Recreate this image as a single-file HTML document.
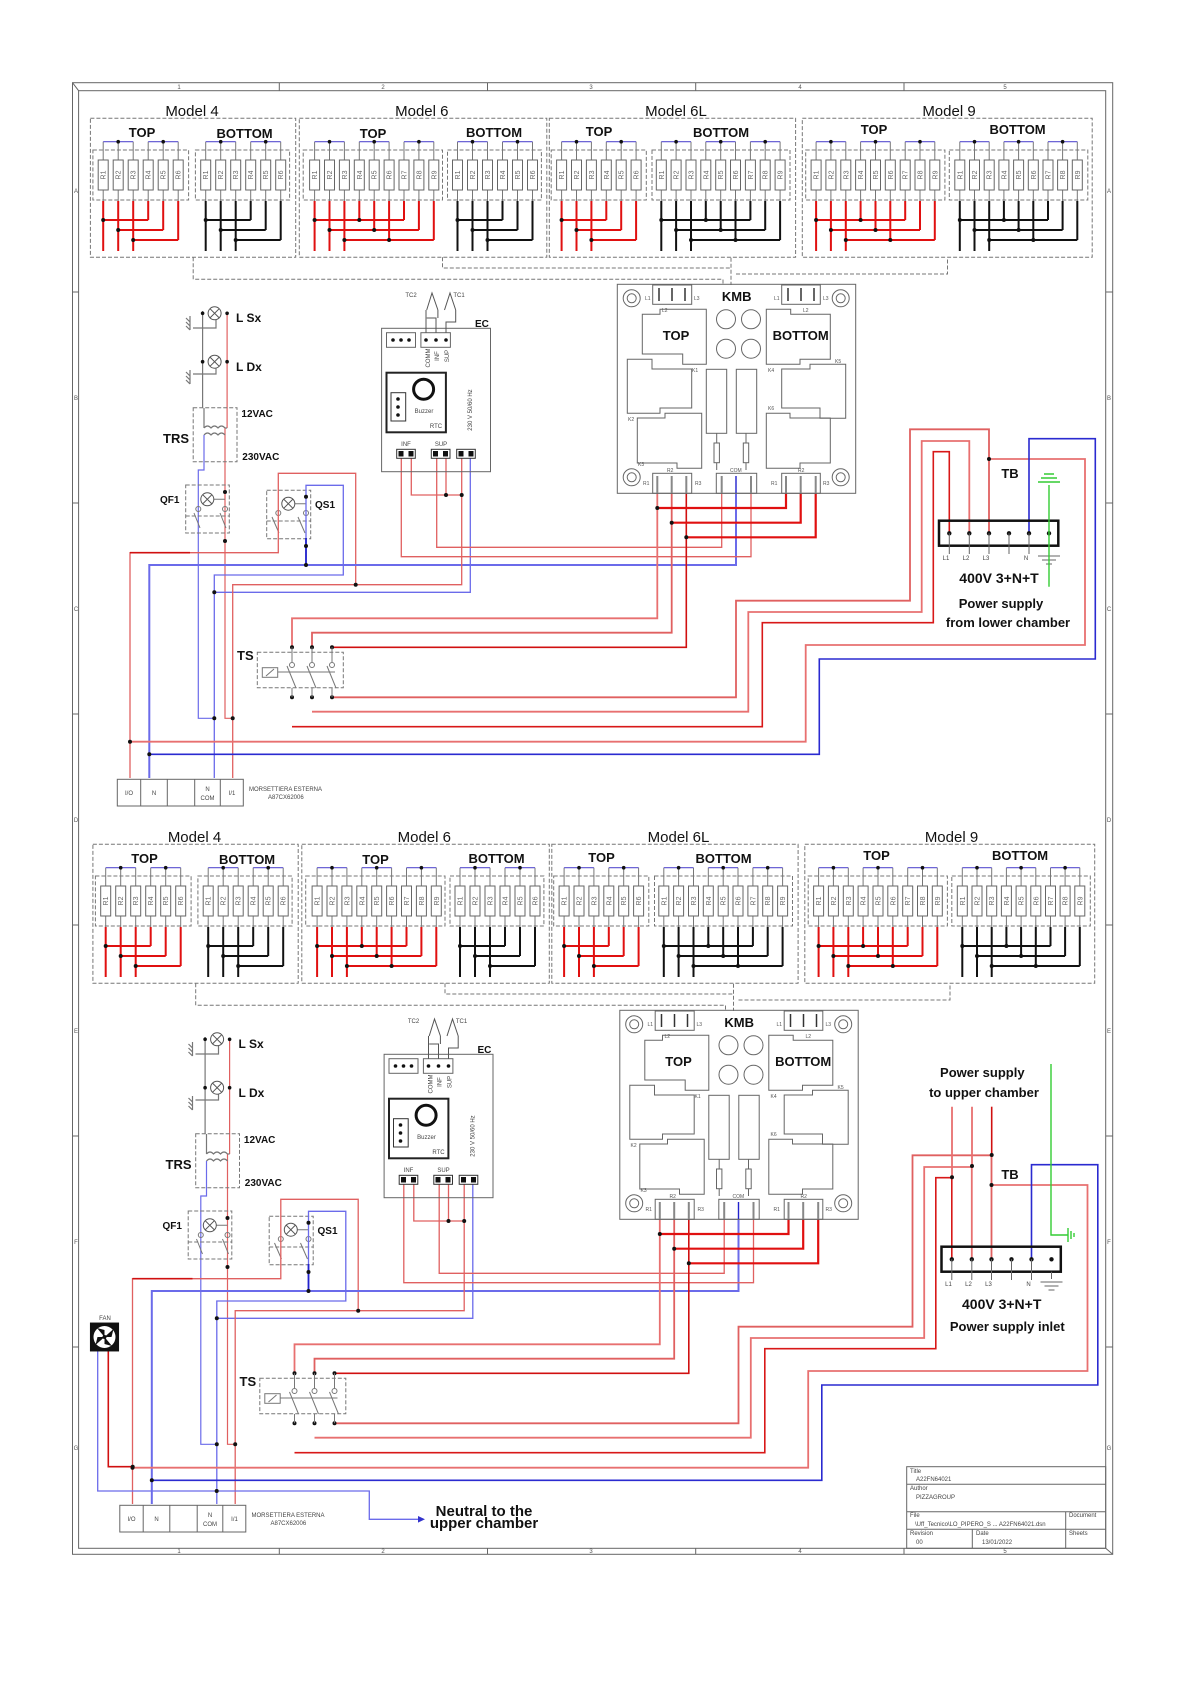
<!DOCTYPE html>
<html><head><meta charset="utf-8"><style>
html,body{margin:0;padding:0;background:#fff;}
svg{display:block;font-family:"Liberation Sans",sans-serif;}
.t{font-family:"Liberation Sans",sans-serif;}
</style></head><body>
<svg width="1191" height="1684" viewBox="0 0 1191 1684" xmlns="http://www.w3.org/2000/svg">
<defs>
<g id="r">
<line x1="0" y1="141.7" x2="0" y2="201" stroke="#777" stroke-width="1"/>
<rect x="-5" y="160" width="10" height="30" fill="#fff" stroke="#666" stroke-width="1"/>
</g>
<g id="lamp">
<circle r="6.5" fill="#fff" stroke="#555" stroke-width="1"/>
<path d="M-4.6,-4.6 L4.6,4.6 M-4.6,4.6 L4.6,-4.6" stroke="#555" stroke-width="1"/>
</g>
<g id="hole"><circle r="8.5" fill="none" stroke="#666"/><circle r="4.5" fill="none" stroke="#666"/></g>
</defs>

<!-- FRAME -->
<g fill="none" stroke="#666" stroke-width="1">
<rect x="72.5" y="82.7" width="1040.2" height="1471.6"/>
<rect x="78.6" y="90.7" width="1027.1" height="1457.6"/>
<path d="M279.3,82.7V90.7M487.5,82.7V90.7M695.7,82.7V90.7M904,82.7V90.7M279.3,1548.3V1554.3M487.5,1548.3V1554.3M695.7,1548.3V1554.3M904,1548.3V1554.3"/>
<path d="M72.5,292H78.6M72.5,503H78.6M72.5,714H78.6M72.5,925H78.6M72.5,1136H78.6M72.5,1347H78.6M1105.7,292H1112.7M1105.7,503H1112.7M1105.7,714H1112.7M1105.7,925H1112.7M1105.7,1136H1112.7M1105.7,1347H1112.7"/>
<path d="M72.5,82.7L78.6,90.7M1112.7,1554.3L1105.7,1548.3"/>
</g>
<g class="t" font-size="6" fill="#555" text-anchor="middle">
<text x="179" y="89">1</text><text x="383" y="89">2</text><text x="591" y="89">3</text><text x="800" y="89">4</text><text x="1005" y="89">5</text>
<text x="179" y="1553">1</text><text x="383" y="1553">2</text><text x="591" y="1553">3</text><text x="800" y="1553">4</text><text x="1005" y="1553">5</text>
<text x="76" y="193">A</text><text x="76" y="400">B</text><text x="76" y="611">C</text><text x="76" y="822">D</text><text x="76" y="1033">E</text><text x="76" y="1244">F</text><text x="76" y="1450">G</text>
<text x="1109" y="193">A</text><text x="1109" y="400">B</text><text x="1109" y="611">C</text><text x="1109" y="822">D</text><text x="1109" y="1033">E</text><text x="1109" y="1244">F</text><text x="1109" y="1450">G</text>
</g>

<!-- TITLE BLOCK -->
<g fill="none" stroke="#666" stroke-width="1">
<rect x="906.7" y="1466.7" width="199" height="81.6"/>
<path d="M906.7,1484.3H1105.7M906.7,1511.7H1105.7M906.7,1529.3H1105.7M1065.7,1511.7V1548.3M972.3,1529.3V1548.3"/>
</g>
<g class="t" font-size="6" fill="#444">
<text x="910" y="1473">Title</text><text x="916" y="1481">A22FN64021</text>
<text x="910" y="1490">Author</text><text x="916" y="1499">PIZZAGROUP</text>
<text x="910" y="1517">File</text><text x="915" y="1526">\Uff_Tecnico\LO_PIPERO_S ... A22FN64021.dsn</text>
<text x="1069" y="1517">Document</text>
<text x="910" y="1535">Revision</text><text x="916" y="1544">00</text>
<text x="976" y="1535">Date</text><text x="982" y="1544">13/01/2022</text>
<text x="1069" y="1535">Sheets</text>
</g>

<!-- ================= HALF GROUP ================= -->
<g id="half">
<g fill="none" stroke="#777" stroke-width="1" stroke-dasharray="4,2">
<rect x="90.4" y="118.3" width="205.3" height="139"/>
<rect x="299.3" y="118.3" width="247.5" height="139"/>
<rect x="549.3" y="118.3" width="246.3" height="139"/>
<rect x="802.3" y="118.3" width="289.9" height="139"/>
<rect x="92.9" y="150" width="95.7" height="50"/>
<rect x="195.4" y="150" width="94.2" height="50"/>
<rect x="303.2" y="150" width="139.3" height="50"/>
<rect x="447.5" y="150" width="93.9" height="50"/>
<rect x="551.2" y="150" width="95.1" height="50"/>
<rect x="652" y="150" width="138" height="50"/>
<rect x="805.7" y="150" width="139.2" height="50"/>
<rect x="949.3" y="150" width="138.5" height="50"/>
<path d="M193.2,257.3V279.3H723V285M442.5,257.3V268H731M731,257.7V285M736,274H947.5V257.7"/>
</g>
<g>
<use href="#r" x="103.2"/><use href="#r" x="118.2"/><use href="#r" x="133.2"/><use href="#r" x="148.2"/><use href="#r" x="163.2"/><use href="#r" x="178.2"/>
<use href="#r" x="205.7"/><use href="#r" x="220.7"/><use href="#r" x="235.7"/><use href="#r" x="250.7"/><use href="#r" x="265.7"/><use href="#r" x="280.7"/>
<use href="#r" x="314.6"/><use href="#r" x="329.5"/><use href="#r" x="344.4"/><use href="#r" x="359.3"/><use href="#r" x="374.2"/><use href="#r" x="389.1"/><use href="#r" x="404"/><use href="#r" x="418.9"/><use href="#r" x="433.8"/>
<use href="#r" x="457.5"/><use href="#r" x="472.5"/><use href="#r" x="487.5"/><use href="#r" x="502.5"/><use href="#r" x="517.5"/><use href="#r" x="532.5"/>
<use href="#r" x="561.6"/><use href="#r" x="576.5"/><use href="#r" x="591.4"/><use href="#r" x="606.3"/><use href="#r" x="621.2"/><use href="#r" x="636.1"/>
<use href="#r" x="661.3"/><use href="#r" x="676.1"/><use href="#r" x="691"/><use href="#r" x="705.8"/><use href="#r" x="720.7"/><use href="#r" x="735.5"/><use href="#r" x="750.4"/><use href="#r" x="765.2"/><use href="#r" x="780.1"/>
<use href="#r" x="816.1"/><use href="#r" x="830.9"/><use href="#r" x="845.8"/><use href="#r" x="860.6"/><use href="#r" x="875.5"/><use href="#r" x="890.3"/><use href="#r" x="905.2"/><use href="#r" x="920"/><use href="#r" x="934.8"/>
<use href="#r" x="959.8"/><use href="#r" x="974.5"/><use href="#r" x="989.2"/><use href="#r" x="1003.9"/><use href="#r" x="1018.6"/><use href="#r" x="1033.3"/><use href="#r" x="1048"/><use href="#r" x="1062.6"/><use href="#r" x="1077.3"/>
</g>
<g class="t" font-size="7" fill="#666" text-anchor="middle">
<text transform="translate(105.7,175) rotate(-90)">R1</text><text transform="translate(120.7,175) rotate(-90)">R2</text><text transform="translate(135.7,175) rotate(-90)">R3</text><text transform="translate(150.7,175) rotate(-90)">R4</text><text transform="translate(165.7,175) rotate(-90)">R5</text><text transform="translate(180.7,175) rotate(-90)">R6</text>
<text transform="translate(208.2,175) rotate(-90)">R1</text><text transform="translate(223.2,175) rotate(-90)">R2</text><text transform="translate(238.2,175) rotate(-90)">R3</text><text transform="translate(253.2,175) rotate(-90)">R4</text><text transform="translate(268.2,175) rotate(-90)">R5</text><text transform="translate(283.2,175) rotate(-90)">R6</text>
<text transform="translate(317.1,175) rotate(-90)">R1</text><text transform="translate(332,175) rotate(-90)">R2</text><text transform="translate(346.9,175) rotate(-90)">R3</text><text transform="translate(361.8,175) rotate(-90)">R4</text><text transform="translate(376.7,175) rotate(-90)">R5</text><text transform="translate(391.6,175) rotate(-90)">R6</text><text transform="translate(406.5,175) rotate(-90)">R7</text><text transform="translate(421.4,175) rotate(-90)">R8</text><text transform="translate(436.3,175) rotate(-90)">R9</text>
<text transform="translate(460,175) rotate(-90)">R1</text><text transform="translate(475,175) rotate(-90)">R2</text><text transform="translate(490,175) rotate(-90)">R3</text><text transform="translate(505,175) rotate(-90)">R4</text><text transform="translate(520,175) rotate(-90)">R5</text><text transform="translate(535,175) rotate(-90)">R6</text>
<text transform="translate(564.1,175) rotate(-90)">R1</text><text transform="translate(579,175) rotate(-90)">R2</text><text transform="translate(593.9,175) rotate(-90)">R3</text><text transform="translate(608.8,175) rotate(-90)">R4</text><text transform="translate(623.7,175) rotate(-90)">R5</text><text transform="translate(638.6,175) rotate(-90)">R6</text>
<text transform="translate(663.8,175) rotate(-90)">R1</text><text transform="translate(678.6,175) rotate(-90)">R2</text><text transform="translate(693.5,175) rotate(-90)">R3</text><text transform="translate(708.3,175) rotate(-90)">R4</text><text transform="translate(723.2,175) rotate(-90)">R5</text><text transform="translate(738,175) rotate(-90)">R6</text><text transform="translate(752.9,175) rotate(-90)">R7</text><text transform="translate(767.7,175) rotate(-90)">R8</text><text transform="translate(782.6,175) rotate(-90)">R9</text>
<text transform="translate(818.6,175) rotate(-90)">R1</text><text transform="translate(833.4,175) rotate(-90)">R2</text><text transform="translate(848.3,175) rotate(-90)">R3</text><text transform="translate(863.1,175) rotate(-90)">R4</text><text transform="translate(878,175) rotate(-90)">R5</text><text transform="translate(892.8,175) rotate(-90)">R6</text><text transform="translate(907.7,175) rotate(-90)">R7</text><text transform="translate(922.5,175) rotate(-90)">R8</text><text transform="translate(937.3,175) rotate(-90)">R9</text>
<text transform="translate(962.3,175) rotate(-90)">R1</text><text transform="translate(977,175) rotate(-90)">R2</text><text transform="translate(991.7,175) rotate(-90)">R3</text><text transform="translate(1006.4,175) rotate(-90)">R4</text><text transform="translate(1021.1,175) rotate(-90)">R5</text><text transform="translate(1035.8,175) rotate(-90)">R6</text><text transform="translate(1050.5,175) rotate(-90)">R7</text><text transform="translate(1065.1,175) rotate(-90)">R8</text><text transform="translate(1079.8,175) rotate(-90)">R9</text>
</g>
<g fill="none" stroke="#5a50d0" stroke-width="1.1">
<path d="M103.2,141.7H133.2M148.2,141.7H178.2M205.7,141.7H235.7M250.7,141.7H280.7M314.6,141.7H344.4M359.3,141.7H389.1M404,141.7H433.8M457.5,141.7H487.5M502.5,141.7H532.5M561.6,141.7H591.4M606.3,141.7H636.1M661.3,141.7H691M705.8,141.7H735.5M750.4,141.7H780.1M816.1,141.7H845.8M860.6,141.7H890.3M905.2,141.7H934.8M959.8,141.7H989.2M1003.9,141.7H1033.3M1048,141.7H1077.3"/>
</g>
<g fill="#111">
<circle cx="118.2" cy="141.7" r="1.8"/><circle cx="163.2" cy="141.7" r="1.8"/><circle cx="220.7" cy="141.7" r="1.8"/><circle cx="265.7" cy="141.7" r="1.8"/>
<circle cx="329.5" cy="141.7" r="1.8"/><circle cx="374.2" cy="141.7" r="1.8"/><circle cx="418.9" cy="141.7" r="1.8"/><circle cx="472.5" cy="141.7" r="1.8"/><circle cx="517.5" cy="141.7" r="1.8"/>
<circle cx="576.5" cy="141.7" r="1.8"/><circle cx="621.2" cy="141.7" r="1.8"/><circle cx="676.1" cy="141.7" r="1.8"/><circle cx="720.7" cy="141.7" r="1.8"/><circle cx="765.2" cy="141.7" r="1.8"/>
<circle cx="830.9" cy="141.7" r="1.8"/><circle cx="875.5" cy="141.7" r="1.8"/><circle cx="920" cy="141.7" r="1.8"/><circle cx="974.5" cy="141.7" r="1.8"/><circle cx="1018.6" cy="141.7" r="1.8"/><circle cx="1062.6" cy="141.7" r="1.8"/>
</g>
<g fill="none" stroke-width="2">
<path stroke="#e01010" d="M103.2,201V251M118.2,201V251M133.2,201V251M148.2,201V220M163.2,201V230M178.2,201V240M103.2,220H148.2M118.2,230H163.2M133.2,240H178.2"/>
<path stroke="#111" d="M205.7,201V251M220.7,201V251M235.7,201V251M250.7,201V220M265.7,201V230M280.7,201V240M205.7,220H250.7M220.7,230H265.7M235.7,240H280.7"/>
<path stroke="#e01010" d="M314.6,201V251M329.5,201V251M344.4,201V251M359.3,201V220M374.2,201V230M389.1,201V240M404,201V220M418.9,201V230M433.8,201V240M314.6,220H404M329.5,230H418.9M344.4,240H433.8"/>
<path stroke="#111" d="M457.5,201V251M472.5,201V251M487.5,201V251M502.5,201V220M517.5,201V230M532.5,201V240M457.5,220H502.5M472.5,230H517.5M487.5,240H532.5"/>
<path stroke="#e01010" d="M561.6,201V251M576.5,201V251M591.4,201V251M606.3,201V220M621.2,201V230M636.1,201V240M561.6,220H606.3M576.5,230H621.2M591.4,240H636.1"/>
<path stroke="#111" d="M661.3,201V251M676.1,201V251M691,201V251M705.8,201V220M720.7,201V230M735.5,201V240M750.4,201V220M765.2,201V230M780.1,201V240M661.3,220H750.4M676.1,230H765.2M691,240H780.1"/>
<path stroke="#e01010" d="M816.1,201V251M830.9,201V251M845.8,201V251M860.6,201V220M875.5,201V230M890.3,201V240M905.2,201V220M920,201V230M934.8,201V240M816.1,220H905.2M830.9,230H920M845.8,240H934.8"/>
<path stroke="#111" d="M959.8,201V251M974.5,201V251M989.2,201V251M1003.9,201V220M1018.6,201V230M1033.3,201V240M1048,201V220M1062.6,201V230M1077.3,201V240M959.8,220H1048M974.5,230H1062.6M989.2,240H1077.3"/>
</g>
<g fill="#111">
<circle cx="103.2" cy="220" r="2"/><circle cx="118.2" cy="230" r="2"/><circle cx="133.2" cy="240" r="2"/>
<circle cx="205.7" cy="220" r="2"/><circle cx="220.7" cy="230" r="2"/><circle cx="235.7" cy="240" r="2"/>
<circle cx="314.6" cy="220" r="2"/><circle cx="329.5" cy="230" r="2"/><circle cx="344.4" cy="240" r="2"/><circle cx="359.3" cy="220" r="2"/><circle cx="374.2" cy="230" r="2"/><circle cx="389.1" cy="240" r="2"/>
<circle cx="457.5" cy="220" r="2"/><circle cx="472.5" cy="230" r="2"/><circle cx="487.5" cy="240" r="2"/>
<circle cx="561.6" cy="220" r="2"/><circle cx="576.5" cy="230" r="2"/><circle cx="591.4" cy="240" r="2"/>
<circle cx="661.3" cy="220" r="2"/><circle cx="676.1" cy="230" r="2"/><circle cx="691" cy="240" r="2"/><circle cx="705.8" cy="220" r="2"/><circle cx="720.7" cy="230" r="2"/><circle cx="735.5" cy="240" r="2"/>
<circle cx="816.1" cy="220" r="2"/><circle cx="830.9" cy="230" r="2"/><circle cx="845.8" cy="240" r="2"/><circle cx="860.6" cy="220" r="2"/><circle cx="875.5" cy="230" r="2"/><circle cx="890.3" cy="240" r="2"/>
<circle cx="959.8" cy="220" r="2"/><circle cx="974.5" cy="230" r="2"/><circle cx="989.2" cy="240" r="2"/><circle cx="1003.9" cy="220" r="2"/><circle cx="1018.6" cy="230" r="2"/><circle cx="1033.3" cy="240" r="2"/>
</g>

<!-- LAMPS / TRS -->
<g fill="none" stroke-width="1.2">
<path stroke="#777" d="M202.6,311V408M193,328H216V320M193,374H216V368"/>
<path stroke="#e06060" d="M227.1,313V428M225,428V718.3H232.7"/>
<path stroke="#777" d="M190,316V330M186,318L190,322M186,322L190,326M186,326L190,330M190,370V384M186,372L190,376M186,376L190,380M186,380L190,384"/>
<path stroke="#777" d="M204,408V428M204,428q3.5,-4 7,0q3.5,-4 7,0q3.5,-4 7,0M204,435q3.5,-4 7,0q3.5,-4 7,0q3.5,-4 7,0M227.1,428H225"/>
<path stroke="#6b6bea" d="M204,435V470H198.3V718.3H214.3"/>
<rect x="193.2" y="407.7" width="43.8" height="54" stroke="#777" stroke-width="1" stroke-dasharray="4,2"/>
</g>
<use href="#lamp" x="214.6" y="313.3"/><use href="#lamp" x="214.6" y="361.7"/>
<g fill="#111"><circle cx="202.6" cy="313.3" r="1.8"/><circle cx="227.1" cy="313.3" r="1.8"/><circle cx="202.6" cy="361.7" r="1.8"/><circle cx="227.1" cy="361.7" r="1.8"/></g>

<!-- QF1 / QS1 -->
<g fill="none" stroke-width="1">
<rect x="185.7" y="485" width="43.6" height="48" stroke="#777" stroke-dasharray="4,2"/>
<path stroke="#777" stroke-dasharray="4,2" d="M185.7,516H229.3"/>
<path stroke="#777" d="M214,499.3H225M194,513L200,528M220,513L226,528"/>
<circle cx="198.3" cy="509" r="2.5" stroke="#777"/><circle cx="225" cy="509" r="2.5" stroke="#777"/>
<rect x="266.7" y="490.3" width="44" height="48.4" stroke="#777" stroke-dasharray="4,2"/>
<path stroke="#777" stroke-dasharray="4,2" d="M266.7,521H310.7"/>
<path stroke="#777" d="M295,503.7H306M272,517L279,533M298,517L305,533"/>
<circle cx="278.3" cy="513" r="2.5" stroke="#777"/><circle cx="306" cy="513" r="2.5" stroke="#777"/>
</g>
<use href="#lamp" x="207.3" y="499.3"/><use href="#lamp" x="288.3" y="503.7"/>

<!-- main wiring -->
<g fill="none" stroke-width="1.3">
<path stroke="#e06060" d="M130,778V552.7H278.3V473.3H355.7V584.7"/>
<path stroke="#d01010" stroke-width="1.6" d="M130,552.7H190"/>
<path stroke="#6b6bea" stroke-width="2" d="M149.3,778V565H736V493"/>
<path stroke="#6b6bea" d="M306,565V485.3H343.3V575H214.3V778"/>
<path stroke="#2222cc" stroke-width="1.8" d="M306,538V565"/>
<path stroke="#6b6bea" d="M214.3,592.3H470.3V458"/>
<path stroke="#e06060" d="M232.7,778V584.7H461.7V458"/>
<path stroke="#e06060" d="M436.7,458V547.3H721.7V493M401.3,458V556.7H751V493M411.3,458V495H461.7M446,458V495"/>
<path stroke="#e87070" stroke-width="1.8" d="M130,741.7H805.7V645H1085V459H989"/>
<path stroke="#2a2ad0" stroke-width="1.6" d="M149.3,754.3H819.3V659H1095.3V438.7H1029V533.3"/>
<path stroke="#e06060" stroke-width="1.8" d="M332,697.3H736V600.7H910V429.3H989V533.3"/>
<path stroke="#e87070" stroke-width="1.8" d="M312,711.7H748.3V612H921.7V441H969.3V533.3"/>
<path stroke="#d81818" stroke-width="1.6" d="M292,726.7H762.3V622.7H933.3V451.7H949.3V533.3"/>
<path stroke="#e87070" stroke-width="1.8" d="M292,647.3V618.3H657.3V493"/>
<path stroke="#e06060" stroke-width="1.8" d="M312,647.3V632.7H671.7V493"/>
<path stroke="#d01010" stroke-width="1.6" d="M332,647.3H686.3V493"/>
<path stroke="#e01010" stroke-width="2.2" d="M657.3,508H786V493M671.7,522.7H800.7V493M686.3,537.3H815.7V493"/>
</g>
<g fill="#111">
<circle cx="130" cy="741.7" r="2"/><circle cx="149.3" cy="754.3" r="2"/><circle cx="214.3" cy="718.3" r="2"/><circle cx="232.7" cy="718.3" r="2"/>
<circle cx="225" cy="492" r="2"/><circle cx="225" cy="541" r="2"/><circle cx="306" cy="496.7" r="2"/><circle cx="306" cy="546" r="2"/><circle cx="306" cy="565" r="2"/>
<circle cx="355.7" cy="584.7" r="2"/><circle cx="214.3" cy="592.3" r="2"/><circle cx="446" cy="495" r="2"/><circle cx="461.7" cy="495" r="2"/>
<circle cx="657.3" cy="508" r="2"/><circle cx="671.7" cy="522.7" r="2"/><circle cx="686.3" cy="537.3" r="2"/><circle cx="989" cy="459" r="2"/>
<circle cx="292" cy="647.3" r="2"/><circle cx="312" cy="647.3" r="2"/><circle cx="332" cy="647.3" r="2"/>
<circle cx="292" cy="697.3" r="2"/><circle cx="312" cy="697.3" r="2"/><circle cx="332" cy="697.3" r="2"/>
</g>
<!-- TS -->
<g fill="none" stroke="#777" stroke-width="1">
<rect x="257.3" y="652.3" width="86" height="35.4" stroke-dasharray="4,2"/>
<rect x="262.3" y="667.7" width="15.4" height="9.6"/><path d="M266,676L274,669M277.7,672H335"/>
<path d="M292,647.3V662M312,647.3V662M332,647.3V662M287,666L296,688M307,666L316,688M327,666L336,688M292,688V697.3M312,688V697.3M332,688V697.3"/>
<circle cx="292" cy="665" r="2.5"/><circle cx="312" cy="665" r="2.5"/><circle cx="332" cy="665" r="2.5"/>
</g>
<!-- terminal block -->
<g fill="none" stroke="#666" stroke-width="1">
<rect x="117.3" y="779.3" width="126" height="26.7"/>
<path d="M140.7,779.3V806M167.3,779.3V806M194.7,779.3V806M220.3,779.3V806"/>
</g>
<!-- EC -->
<g fill="none" stroke="#666" stroke-width="1">
<rect x="381.6" y="328.3" width="108.9" height="143.4"/>
<rect x="386.5" y="332.7" width="29" height="14.6"/>
<rect x="420.9" y="332.7" width="29.5" height="14.6"/>
<rect x="386.5" y="372.7" width="59.4" height="59.6" stroke="#222" stroke-width="2"/>
<circle cx="423.6" cy="389.3" r="10" stroke="#111" stroke-width="3"/>
<rect x="391" y="392.7" width="14.7" height="28.3" stroke="#333"/>
<rect x="396.7" y="449.3" width="18.6" height="9" stroke="#333"/>
<rect x="431.3" y="449.3" width="18.7" height="9" stroke="#333"/>
<rect x="456.7" y="449.3" width="18.6" height="9" stroke="#333"/>
<path stroke="#555" d="M426.7,310L432,293L437.9,310M444.5,310L450,293L455.7,310M426,332.7V310M436,332.7V318H426.7M446,332.7V322H455.7V310M437.9,310V318"/>
</g>
<g fill="#111">
<circle cx="393" cy="340" r="1.8"/><circle cx="401" cy="340" r="1.8"/><circle cx="409" cy="340" r="1.8"/>
<circle cx="426" cy="340" r="1.8"/><circle cx="436" cy="340" r="1.8"/><circle cx="446" cy="340" r="1.8"/>
<circle cx="398" cy="399" r="1.8"/><circle cx="398" cy="407" r="1.8"/><circle cx="398" cy="415" r="1.8"/>
<rect x="398.5" y="451" width="5" height="5.5"/><rect x="408.5" y="451" width="5" height="5.5"/>
<rect x="433" y="451" width="5" height="5.5"/><rect x="443" y="451" width="5" height="5.5"/>
<rect x="458.5" y="451" width="5" height="5.5"/><rect x="468.5" y="451" width="5" height="5.5"/>
</g>
<!-- KMB -->
<g fill="none" stroke="#666" stroke-width="1">
<rect x="617.3" y="284.3" width="238.4" height="209"/>
<rect x="652.7" y="285" width="39" height="19.3"/><rect x="781.7" y="285" width="38.6" height="19.3"/>
<rect x="652.7" y="473.3" width="39" height="20"/><rect x="716.3" y="473.3" width="40.4" height="20"/><rect x="781.7" y="473.3" width="38.6" height="20"/>
<path d="M642.3,314.3H660V309.3H706.3V364.3H682.7V354H642.3Z"/>
<path d="M766.3,309.3H790.7V314.3H830.3V359.3H800V364.3H766.3Z"/>
<path d="M627.3,359.3H652V369H691.7V408H660V413.3H627.3Z"/>
<path d="M637.3,418H665V413.3H701.7V468.3H677V463H637.3Z"/>
<path d="M781.7,369H810V364.3H845.7V418.3H820V408H781.7Z"/>
<path d="M766.3,413.3H790V418H830.3V463H800V468.3H766.3Z"/>
<circle cx="726" cy="319.3" r="9.5"/><circle cx="751" cy="319.3" r="9.5"/><circle cx="726" cy="348.7" r="9.5"/><circle cx="751" cy="348.7" r="9.5"/>
<rect x="706.3" y="369.3" width="20.4" height="64"/><rect x="736.3" y="369.3" width="20.4" height="64"/>
<rect x="714" y="443" width="5.4" height="19.7"/><rect x="743.3" y="443" width="5.4" height="19.7"/>
<path d="M716.7,433.3V443M716.7,462.7V470M746,433.3V443M746,462.7V470"/>
<path stroke="#333" stroke-width="1.5" d="M659,288V301M672,288V301M685,288V301M788,288V301M801,288V301M814,288V301"/>
<path stroke="#888" stroke-width="2" d="M657.3,476V493M671.7,476V493M686.3,476V493M721.7,476V493M751,476V493M786,476V493M800.7,476V493M815.7,476V493"/>
<path stroke="#2222cc" stroke-width="1.4" d="M736,476V493"/>
</g>
<use href="#hole" x="631.7" y="298.3"/><use href="#hole" x="840.7" y="298.3"/><use href="#hole" x="631.7" y="477.3"/><use href="#hole" x="840.7" y="477.3"/>
<g class="t" font-size="5" fill="#555">
<text x="645" y="300">L1</text><text x="694" y="300">L3</text><text x="774" y="300">L1</text><text x="823" y="300">L3</text>
<text x="662" y="312">L2</text><text x="803" y="312">L2</text>
<text x="692" y="372">K1</text><text x="768" y="372">K4</text><text x="835" y="363">K5</text><text x="628" y="421">K2</text><text x="768" y="410">K6</text><text x="638" y="466">K3</text>
<text x="667" y="472">R2</text><text x="798" y="472">R2</text><text x="730" y="472">COM</text>
<text x="643" y="485">R1</text><text x="695" y="485">R3</text><text x="771" y="485">R1</text><text x="823" y="485">R3</text>
</g>
<!-- TB -->
<rect x="939" y="520.7" width="119.3" height="25" fill="none" stroke="#111" stroke-width="2.5"/>
<g fill="#111">
<circle cx="949.3" cy="533.3" r="2.2"/><circle cx="969.3" cy="533.3" r="2.2"/><circle cx="989" cy="533.3" r="2.2"/><circle cx="1009" cy="533.3" r="2.2"/><circle cx="1029" cy="533.3" r="2.2"/><circle cx="1049" cy="533.3" r="2.2"/>
</g>
<g fill="none" stroke="#666" stroke-width="1">
<path d="M949.3,533.3V554M969.3,533.3V554M989,533.3V554M1009,533.3V554M1029,533.3V554M1049,545.7V553M1038,556H1060M1042,560H1056M1046,564H1052"/>
</g>
<g class="t" font-size="6" fill="#444" text-anchor="middle">
<text x="946" y="560">L1</text><text x="966" y="560">L2</text><text x="986" y="560">L3</text><text x="1026" y="560">N</text>
<text x="129" y="795">I/O</text><text x="154" y="795">N</text>
<text x="207.5" y="791">N</text><text x="207.5" y="800">COM</text><text x="232" y="795">I/1</text>
<text transform="translate(430,358) rotate(-90)">COMM</text><text transform="translate(439,356) rotate(-90)">INF</text><text transform="translate(449,356) rotate(-90)">SUP</text>
<text x="424" y="413">Buzzer</text><text x="436" y="428">RTC</text>
<text x="406" y="446">INF</text><text x="441" y="446">SUP</text>
<text transform="translate(472,410) rotate(-90)">230 V 50/60 Hz</text>
<text x="411" y="297">TC2</text><text x="459" y="297">TC1</text>
</g>
<g class="t" font-size="6" fill="#444">
<text x="249" y="791">MORSETTIERA ESTERNA</text><text x="268" y="799">A87CX62006</text>
</g>
</g>
<!-- ================= END HALF ================= -->

<use href="#half" transform="translate(2.5,726)"/>

<g fill="none" stroke="#33cc33" stroke-width="1.4">
<path d="M1049,485V586.7M1041,478H1057M1038,482H1060M1044,474H1054"/>
</g>
<g fill="none" stroke-width="1.6">
<path stroke="#33cc33" stroke-width="1.4" d="M1051,1064V1235H1068M1068,1228V1242M1071,1231V1239M1074,1233V1237"/>
<path stroke="#e87070" stroke-width="1.8" d="M952,1106.7V1178M972,1106.7V1167"/>
<path stroke="#d01010" d="M991.7,1106.7V1156"/>
<path stroke="#d01010" d="M108.3,1350.7V1466.7H133"/>
<path stroke="#6b6bea" stroke-width="1.3" d="M97.7,1350.7V1491H369.3V1519.3H420"/>
</g>
<path d="M418,1516L425,1519.3L418,1522.6Z" fill="#3333cc"/>
<g fill="#111"><circle cx="952" cy="1177.3" r="2"/><circle cx="972" cy="1166" r="2"/><circle cx="991.7" cy="1155" r="2"/><circle cx="216.7" cy="1491" r="2"/><circle cx="132.7" cy="1466.7" r="2"/></g>
<rect x="90.7" y="1323.3" width="27.6" height="27.4" fill="#111" stroke="#111" stroke-width="1.5"/>
<circle cx="104.5" cy="1337" r="11" fill="#fff"/>
<path d="M104.5,1337L97,1328L104.5,1330ZM104.5,1337L113.5,1329L111.5,1337ZM104.5,1337L112,1346L104.5,1344ZM104.5,1337L95.5,1345L97.5,1337Z" fill="#111"/>
<circle cx="104.5" cy="1337" r="2" fill="#111"/>

<!-- TEXT TOP -->
<g class="t" fill="#111">
<g font-size="15" text-anchor="middle">
<text x="192" y="116">Model 4</text><text x="421.8" y="116">Model 6</text><text x="676" y="116">Model 6L</text><text x="949" y="116">Model 9</text>
</g>
<g font-size="13" font-weight="bold" text-anchor="middle">
<text x="142" y="137">TOP</text><text x="244.6" y="138">BOTTOM</text>
<text x="373" y="138">TOP</text><text x="494" y="137">BOTTOM</text>
<text x="599" y="136">TOP</text><text x="721" y="137">BOTTOM</text>
<text x="874" y="134">TOP</text><text x="1017.6" y="134">BOTTOM</text>
<text x="736.7" y="301">KMB</text><text x="676" y="340">TOP</text><text x="800.7" y="340">BOTTOM</text>
<text x="1010" y="478">TB</text>
</g>
<g font-weight="bold">
<text x="236" y="322" font-size="12">L Sx</text><text x="236" y="371" font-size="12">L Dx</text>
<text x="241.4" y="417" font-size="10">12VAC</text><text x="242.3" y="460" font-size="10">230VAC</text>
<text x="163" y="443" font-size="13">TRS</text>
<text x="160" y="503" font-size="10">QF1</text><text x="315" y="508" font-size="10">QS1</text>
<text x="237" y="660" font-size="13">TS</text>
<text x="475" y="327" font-size="10">EC</text>
<text x="999" y="583" font-size="14" text-anchor="middle">400V 3+N+T</text>
<text x="1001" y="608" font-size="13" text-anchor="middle">Power supply</text>
<text x="1008" y="627" font-size="13" text-anchor="middle">from lower chamber</text>
</g>
</g>

<!-- TEXT BOTTOM -->
<g class="t" fill="#111" transform="translate(2.5,726)">
<g font-size="15" text-anchor="middle">
<text x="192" y="116">Model 4</text><text x="421.8" y="116">Model 6</text><text x="676" y="116">Model 6L</text><text x="949" y="116">Model 9</text>
</g>
<g font-size="13" font-weight="bold" text-anchor="middle">
<text x="142" y="137">TOP</text><text x="244.6" y="138">BOTTOM</text>
<text x="373" y="138">TOP</text><text x="494" y="137">BOTTOM</text>
<text x="599" y="136">TOP</text><text x="721" y="137">BOTTOM</text>
<text x="874" y="134">TOP</text><text x="1017.6" y="134">BOTTOM</text>
<text x="736.7" y="301">KMB</text><text x="676" y="340">TOP</text><text x="800.7" y="340">BOTTOM</text>
<text x="1007.5" y="453">TB</text>
</g>
<g font-weight="bold">
<text x="236" y="322" font-size="12">L Sx</text><text x="236" y="371" font-size="12">L Dx</text>
<text x="241.4" y="417" font-size="10">12VAC</text><text x="242.3" y="460" font-size="10">230VAC</text>
<text x="163" y="443" font-size="13">TRS</text>
<text x="160" y="503" font-size="10">QF1</text><text x="315" y="508" font-size="10">QS1</text>
<text x="237" y="660" font-size="13">TS</text>
<text x="475" y="327" font-size="10">EC</text>
</g>
</g>
<g class="t" fill="#111" font-weight="bold" text-anchor="middle">
<text x="1001.7" y="1309" font-size="14">400V 3+N+T</text>
<text x="1007.3" y="1331" font-size="13">Power supply inlet</text>
<text x="982.3" y="1077" font-size="13">Power supply</text>
<text x="984" y="1097" font-size="13">to upper chamber</text>
<text x="484" y="1516" font-size="15">Neutral to the</text>
<text x="484" y="1528" font-size="15">upper chamber</text>
</g>
<text x="105" y="1320" class="t" font-size="6" fill="#444" text-anchor="middle">FAN</text>
</svg>
</body></html>
